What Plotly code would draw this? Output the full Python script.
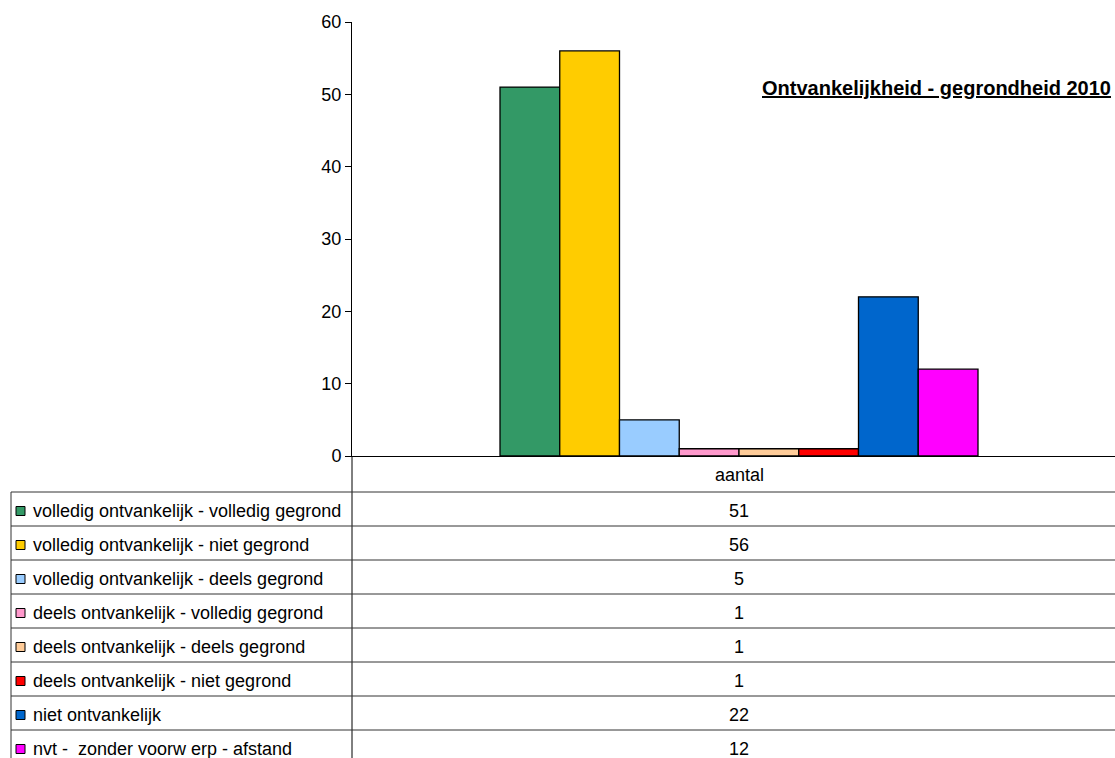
import plotly.graph_objects as go

# ---- data ----
categories = ["aantal"]
series_names = [
    "volledig ontvankelijk - volledig gegrond",
    "volledig ontvankelijk - niet gegrond",
    "volledig ontvankelijk - deels gegrond",
    "deels ontvankelijk - volledig gegrond",
    "deels ontvankelijk - deels gegrond",
    "deels ontvankelijk - niet gegrond",
    "niet ontvankelijk",
    "nvt -  zonder voorw erp - afstand",
]
series_values = [51, 56, 5, 1, 1, 1, 22, 12]
series_colors = ["#339966", "#FFCC00", "#99CCFF", "#FF99CC",
                 "#FFCC99", "#FF0000", "#0066CC", "#FF00FF"]
title_text = "Ontvankelijkheid - gegrondheid 2010"
y_ticks = [0, 10, 20, 30, 40, 50, 60]

# ---- layout constants (pixels) ----
W, H = 1115, 758
PLOT_L, PLOT_T, PLOT_B = 352, 22, 456
PW, PH = W - PLOT_L, PLOT_B - PLOT_T
TABLE_L = 11
ROW_TOP0, ROW_H = 492, 34
FONT = "Liberation Sans, Arial, sans-serif"
FS = 18


def fx(p):
    # pixel x -> paper fraction of plot area
    return (p - PLOT_L) / PW


def fy(p):
    # pixel y (from top) -> paper fraction of plot area
    return (PLOT_B - p) / PH


fig = go.Figure()
for name, val, col in zip(series_names, series_values, series_colors):
    fig.add_trace(go.Bar(
        x=categories, y=[val], name=name,
        marker=dict(color=col, line=dict(color="black", width=1.3)),
        showlegend=False,
    ))

bargap = 0.3
bars_px = 478.0
u = bars_px / (1 - bargap)
center_px = 739
xr = [-(center_px - PLOT_L) / u, (W - center_px) / u]

shapes = []
annotations = []

# vertical line continuing the y axis through the table
shapes.append(dict(type="line", xref="paper", yref="paper",
                   x0=fx(PLOT_L), x1=fx(PLOT_L), y0=fy(PLOT_B), y1=fy(H + 5),
                   line=dict(color="black", width=1)))
# left border of table
shapes.append(dict(type="line", xref="paper", yref="paper",
                   x0=fx(TABLE_L), x1=fx(TABLE_L), y0=fy(ROW_TOP0), y1=fy(H + 5),
                   line=dict(color="#333333", width=1)))

# header text
annotations.append(dict(x=categories[0], xref="x", yref="paper",
                        y=fy((PLOT_B + ROW_TOP0) / 2 + 1), text=categories[0],
                        showarrow=False, xanchor="center", yanchor="middle",
                        font=dict(family=FONT, size=FS, color="black")))

for i, (name, val, col) in enumerate(zip(series_names, series_values, series_colors)):
    top = ROW_TOP0 + ROW_H * i
    mid = top + ROW_H / 2 + 2
    shapes.append(dict(type="line", xref="paper", yref="paper",
                       x0=fx(TABLE_L), x1=fx(W + 5), y0=fy(top), y1=fy(top),
                       line=dict(color="#333333", width=1)))
    shapes.append(dict(type="rect", xref="paper", yref="paper",
                       x0=fx(16), x1=fx(25), y0=fy(mid - 4.5), y1=fy(mid + 4.5),
                       fillcolor=col, line=dict(color="black", width=1)))
    annotations.append(dict(x=fx(31), y=fy(mid), xref="paper", yref="paper",
                            text=name, showarrow=False, xanchor="left",
                            yanchor="middle",
                            font=dict(family=FONT, size=FS, color="black")))
    annotations.append(dict(x=categories[0], xref="x", y=fy(mid), yref="paper",
                            text=str(val), showarrow=False, xanchor="center",
                            yanchor="middle",
                            font=dict(family=FONT, size=FS, color="black")))

annotations.append(dict(x=fx(1113), y=fy(88), xref="paper", yref="paper",
                        text="<b><u>" + title_text + "</u></b>", showarrow=False,
                        xanchor="right", yanchor="middle",
                        font=dict(family=FONT, size=20, color="black")))

fig.update_layout(
    width=W, height=H,
    margin=dict(l=PLOT_L, r=0, t=PLOT_T, b=H - PLOT_B, pad=0),
    paper_bgcolor="white", plot_bgcolor="white",
    barmode="group", bargap=bargap, bargroupgap=0,
    font=dict(family=FONT, size=FS, color="black"),
    xaxis=dict(type="category", range=xr, showline=True, linecolor="black",
               linewidth=1, showticklabels=False, ticks="", showgrid=False,
               zeroline=False, automargin=False, fixedrange=True),
    yaxis=dict(range=[0, 60], tickvals=y_ticks, showline=True, linecolor="black",
               linewidth=1, ticks="outside", ticklen=6, tickcolor="black",
               showgrid=False, zeroline=False, automargin=False,
               tickfont=dict(family=FONT, size=FS, color="black")),
    shapes=shapes, annotations=annotations,
)

fig.write_html("out.html", config={"displayModeBar": False},
               post_script="document.body.style.margin='0px';")
